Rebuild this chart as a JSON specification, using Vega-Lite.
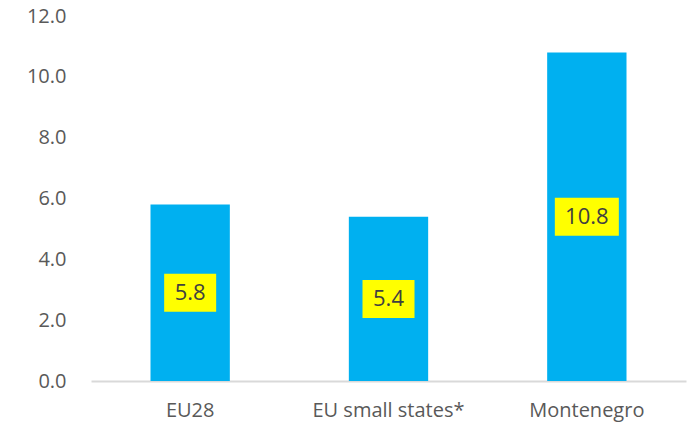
{
  "$schema": "https://vega.github.io/schema/vega-lite/v6.json",
  "width": 695,
  "height": 424,
  "autosize": {"type": "fit", "contains": "padding"},
  "padding": {"left": 26, "top": 6, "right": 9, "bottom": 4},
  "background": "white",
  "config": {"view": {"stroke": null}, "font": "Open Sans"},
  "data": {
    "values": [
      {"category": "EU28", "value": 5.8},
      {"category": "EU small states*", "value": 5.4},
      {"category": "Montenegro", "value": 10.8}
    ]
  },
  "transform": [{"calculate": "datum.value / 2", "as": "mid"}],
  "encoding": {
    "x": {
      "field": "category",
      "type": "nominal",
      "sort": null,
      "scale": {"paddingInner": 0.6, "paddingOuter": 0.3},
      "axis": {
        "title": null,
        "labelAngle": 0,
        "labelFontSize": 20,
        "labelColor": "#595959",
        "labelPadding": 19,
        "ticks": false,
        "domainColor": "#D9D9D9",
        "domainWidth": 2
      }
    }
  },
  "layer": [
    {
      "mark": {"type": "bar", "color": "#00B0F0"},
      "encoding": {
        "y": {
          "field": "value",
          "type": "quantitative",
          "scale": {"domain": [0, 12], "nice": false},
          "axis": {
            "title": null,
            "values": [0, 2, 4, 6, 8, 10, 12],
            "format": ".1f",
            "grid": false,
            "ticks": false,
            "domain": false,
            "labelFontSize": 20,
            "labelColor": "#595959",
            "labelPadding": 25
          }
        }
      }
    },
    {
      "mark": {"type": "tick", "color": "#FFFF00", "thickness": 38, "opacity": 1},
      "encoding": {
        "y": {"field": "mid", "type": "quantitative"},
        "size": {"condition": {"test": "datum.value >= 10", "value": 64}, "value": 52}
      }
    },
    {
      "mark": {"type": "text", "fontSize": 22, "color": "#404040", "baseline": "middle"},
      "encoding": {
        "y": {"field": "mid", "type": "quantitative"},
        "text": {"field": "value", "type": "quantitative", "format": ".1f"}
      }
    }
  ]
}
